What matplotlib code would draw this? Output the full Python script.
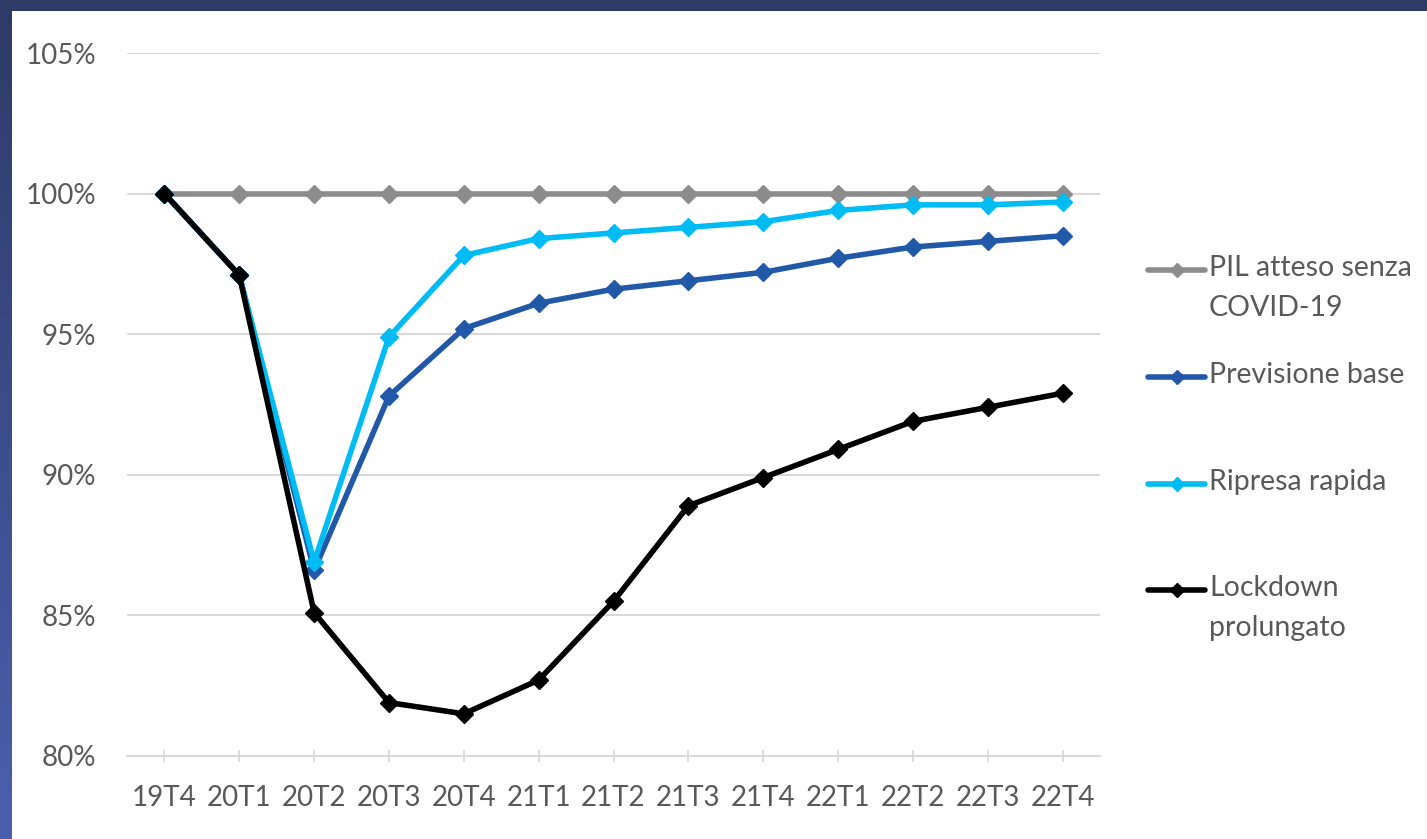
import numpy as np
import matplotlib
matplotlib.use("Agg")
import matplotlib.pyplot as plt
from matplotlib.lines import Line2D
from matplotlib.patches import Rectangle

categories = ["19T4", "20T1", "20T2", "20T3", "20T4", "21T1", "21T2", "21T3",
              "21T4", "22T1", "22T2", "22T3", "22T4"]
pil_senza_covid = [100, 100, 100, 100, 100, 100, 100, 100, 100, 100, 100, 100, 100]
previsione_base = [100, 97.1, 86.6, 92.8, 95.2, 96.1, 96.6, 96.9, 97.2, 97.7, 98.1, 98.3, 98.5]
ripresa_rapida = [100, 97.1, 86.9, 94.9, 97.8, 98.4, 98.6, 98.8, 99.0, 99.4, 99.6, 99.6, 99.7]
lockdown_prolungato = [100, 97.1, 85.1, 81.9, 81.5, 82.7, 85.5, 88.9, 89.9, 90.9, 91.9, 92.4, 92.9]
yticks = [80, 85, 90, 95, 100, 105]

series = [
    ("PIL atteso senza\nCOVID-19", pil_senza_covid, "#8c8c8c"),
    ("Previsione base", previsione_base, "#2159a8"),
    ("Ripresa rapida", ripresa_rapida, "#00bcf5"),
    ("Lockdown\nprolungato", lockdown_prolungato, "#000000"),
]

W, H = 1427, 839
fig = plt.figure(figsize=(W / 100, H / 100), dpi=100)
fig.patch.set_facecolor("white")

# background frame: top navy strip and left gradient strip
bg = fig.add_axes([0, 0, 1, 1], zorder=-10)
bg.axis("off")
grad = np.linspace(0, 1, 256)[:, None]
c_top = np.array([0x2d, 0x3a, 0x66]) / 255
c_bot = np.array([0x4b, 0x5f, 0xae]) / 255
img = c_top[None, None, :] * (1 - grad[:, :, None]) + c_bot[None, None, :] * grad[:, :, None]
bg.imshow(img, extent=(0, 12, H, 0), aspect="auto", interpolation="bilinear")
bg.add_patch(Rectangle((0, 0), W, 11, color="#2d3a66", lw=0))
bg.set_xlim(0, W)
bg.set_ylim(H, 0)

font = "Lato"
tc = "#595959"

# axes placement in pixels
x0, x1 = 127, 1100
y_top, y_bot = 53, 756  # 105% and 80%
ax = fig.add_axes([x0 / W, 1 - y_bot / H, (x1 - x0) / W, (y_bot - y_top) / H])
ax.set_facecolor("none")
x = np.arange(len(categories))
for label, vals, col in series:
    ax.plot(x, vals, color=col, lw=4, marker="D", markersize=9,
            solid_joinstyle="round", solid_capstyle="round", clip_on=False)

ax.set_xlim(-0.5, len(categories) - 0.5)
ax.set_ylim(80, 105)
ax.set_yticks(yticks)
ax.set_yticklabels([f"{v}%" for v in yticks], fontsize=20, color=tc, family=font)
ax.set_xticks(x)
ax.set_xticklabels(categories, fontsize=20, color=tc, family=font)
ax.yaxis.grid(True, color="#d9d9d9", lw=1.5)
ax.set_axisbelow(True)
for s in ["top", "right", "left"]:
    ax.spines[s].set_visible(False)
ax.spines["bottom"].set_color("#d9d9d9")
ax.spines["bottom"].set_linewidth(1.5)
ax.tick_params(axis="y", length=0, pad=22)
ax.tick_params(axis="x", length=8, width=1.2, color="#d9d9d9", direction="inout", pad=17)

# legend drawn manually
leg_y = [270, 377, 484, 590]
for (label, vals, col), ly in zip(series, leg_y):
    fy = 1 - ly / H
    fig.add_artist(Line2D([1148 / W, 1205 / W], [fy, fy], color=col, lw=4,
                          solid_capstyle="round", transform=fig.transFigure))
    fig.add_artist(Line2D([1177 / W], [fy], color=col, marker="D", markersize=7.5,
                          lw=0, transform=fig.transFigure))
    fig.text(1209 / W, fy + 15 / H, label, fontsize=20.5, color=tc, family=font,
             va="top", ha="left", linespacing=1.65)

fig.savefig("out.png", dpi=100)
